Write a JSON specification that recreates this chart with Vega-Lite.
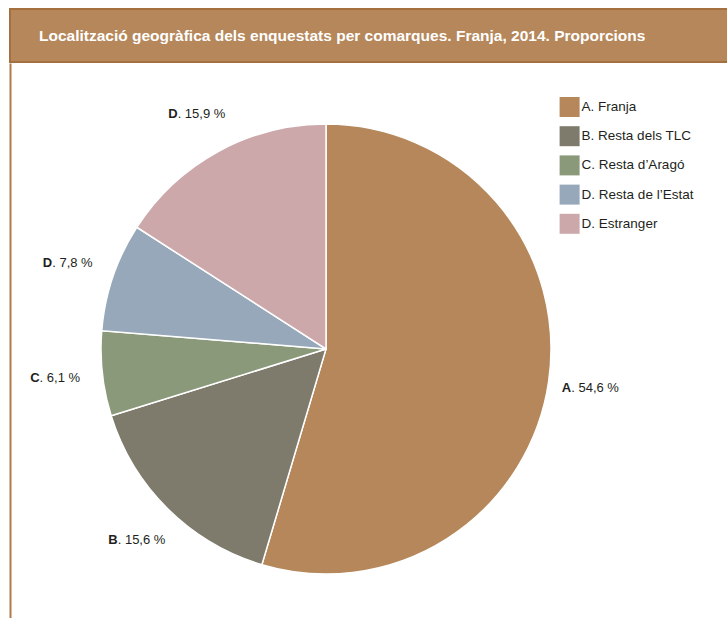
{
  "$schema": "https://vega.github.io/schema/vega-lite/v6.json",
  "background": "white",
  "padding": {"left": 9, "top": 8, "right": 0, "bottom": -15},
  "spacing": 0,
  "config": {"view": {"stroke": null}, "font": "Liberation Sans"},
  "resolve": {"legend": {"color": "independent"}},
  "datasets": {
    "t": [{"title": "Localització geogràfica dels enquestats per comarques. Franja, 2014. Proporcions"}],
    "d": [
      {"cat": "A. Franja", "letter": "A", "rest": ". 54,6 %", "pct": 54.6, "ord": 1},
      {"cat": "B. Resta dels TLC", "letter": "B", "rest": ". 15,6 %", "pct": 15.6, "ord": 2},
      {"cat": "C. Resta d’Aragó", "letter": "C", "rest": ". 6,1 %", "pct": 6.1, "ord": 3},
      {"cat": "D. Resta de l’Estat", "letter": "D", "rest": ". 7,8 %", "pct": 7.8, "ord": 4},
      {"cat": "D. Estranger", "letter": "D", "rest": ". 15,9 %", "pct": 15.9, "ord": 5}
    ]
  },
  "vconcat": [
    {
      "width": 718,
      "height": 53,
      "data": {"name": "t"},
      "title": {
        "text": "Localització geogràfica dels enquestats per comarques. Franja, 2014. Proporcions",
        "anchor": "start", "orient": "top", "frame": "group",
        "offset": -43, "dx": 29, "baseline": "middle",
        "color": "white", "font": "Liberation Sans", "fontSize": 15.5, "fontWeight": "bold", "zindex": 1
      },
      "mark": {"type": "rect", "fill": "#b5875a", "stroke": "#a5703f", "strokeWidth": 2},
      "encoding": {}
    },
    {
      "width": 632,
      "height": 572,
      "data": {"name": "d"},
      "layer": [
        {
          "mark": {"type": "arc", "outerRadius": 225, "stroke": "white", "strokeWidth": 1.5},
          "encoding": {
            "theta": {"field": "pct", "type": "quantitative", "stack": true},
            "order": {"field": "ord", "type": "quantitative"},
            "color": {
              "field": "cat", "type": "nominal",
              "scale": {
                "domain": ["A. Franja", "B. Resta dels TLC", "C. Resta d’Aragó", "D. Resta de l’Estat", "D. Estranger"],
                "range": ["#b5875a", "#7e7b6c", "#8b997b", "#96a8b9", "#cca8ab"]
              },
              "legend": {
                "orient": "none", "legendX": 549.6, "legendY": 34, "title": null,
                "symbolType": "square", "symbolSize": 400, "symbolStrokeWidth": 0,
                "labelFontSize": 13.5, "labelFont": "Liberation Sans", "labelColor": "#231f20",
                "rowPadding": 9.2, "labelOffset": 2, "padding": 0
              }
            }
          }
        },
        {
          "mark": {"type": "text", "radius": 268, "align": "right", "dx": -20, "fontWeight": "bold", "fontSize": 13, "color": "#231f20"},
          "encoding": {
            "theta": {"field": "pct", "type": "quantitative", "stack": true},
            "order": {"field": "ord", "type": "quantitative"},
            "text": {"field": "letter"}
          }
        },
        {
          "mark": {"type": "text", "radius": 268, "align": "left", "dx": -20, "fontSize": 13, "color": "#231f20"},
          "encoding": {
            "theta": {"field": "pct", "type": "quantitative", "stack": true},
            "order": {"field": "ord", "type": "quantitative"},
            "text": {"field": "rest"}
          }
        },
        {
          "mark": {"type": "point", "opacity": 0},
          "encoding": {
            "y": {
              "field": "pct", "type": "quantitative",
              "axis": {"domain": true, "domainColor": "#b07a4a", "domainWidth": 2, "labels": false, "ticks": false, "grid": false, "title": null, "minExtent": 0, "maxExtent": 0}
            }
          }
        }
      ]
    }
  ]
}
